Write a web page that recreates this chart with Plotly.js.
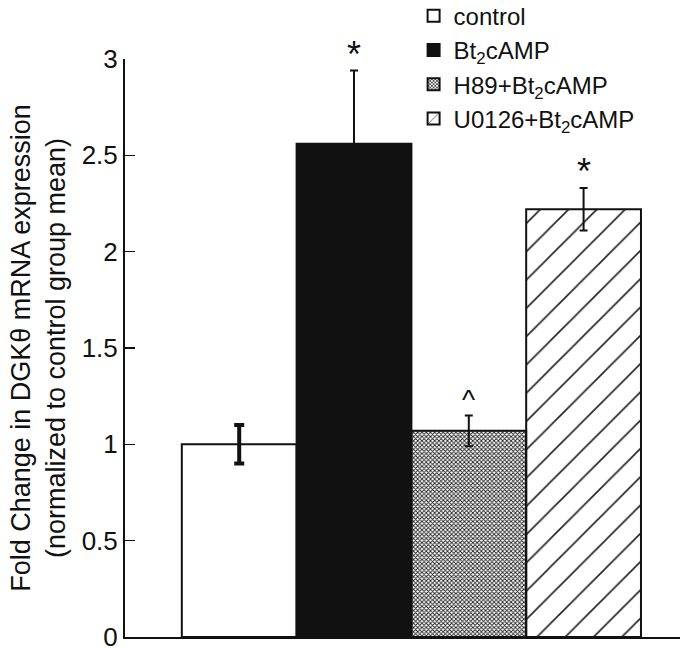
<!DOCTYPE html>
<html>
<head>
<meta charset="utf-8">
<script src="https://cdn.plot.ly/plotly-3.0.1.min.js"></script>
<style>html,body{margin:0;padding:0;background:#fff;}#chart{width:697px;height:648px;}</style>
</head>
<body>
<div id="chart"></div>
<script>
// Data
var categories = ["control", "Bt<sub>2</sub>cAMP", "H89+Bt<sub>2</sub>cAMP", "U0126+Bt<sub>2</sub>cAMP"];
var means = [1.0, 2.56, 1.07, 2.22];
var errors = [0.10, 0.38, 0.08, 0.11];
var marks = ["", "*", "^", "*"];
var yTicks = [0, 0.5, 1, 1.5, 2, 2.5, 3];
var yTickLabels = ["0", "0.5", "1", "1.5", "2", "2.5", "3"];

var fills = [
  {color: "#ffffff", pattern: {shape: ""}},
  {color: "#111111", pattern: {shape: ""}},
  {color: "#ffffff", pattern: {shape: "x", fgcolor: "#222222", size: 3, solidity: 0.5}},
  {color: "#ffffff", pattern: {shape: "/", fgcolor: "#222222", size: 20, solidity: 0.08}}
];
var errThick = [4, 2, 2, 2];
var errWidth = [5, 4, 4, 4];

var traces = categories.map(function (c, i) {
  return {
    type: "bar",
    name: c,
    x: [i],
    y: [means[i]],
    width: 1,
    marker: {color: fills[i].color, pattern: fills[i].pattern, line: {color: "#111", width: 2}},
    error_y: {type: "data", array: [errors[i]], visible: true, color: "#111", thickness: errThick[i], width: errWidth[i]}
  };
});

var annotations = [];
marks.forEach(function (m, i) {
  if (!m) return;
  annotations.push({
    x: i, y: means[i] + errors[i], xref: "x", yref: "y",
    text: m, showarrow: false, yanchor: "bottom", yshift: m === "*" ? -6 : -2,
    font: {family: "Liberation Sans, Arial, sans-serif", size: m === "*" ? 36 : 28, color: "#111"}
  });
});

var layout = {
  width: 697, height: 648,
  margin: {l: 125, r: 17, t: 59, b: 11, autoexpand: false},
  paper_bgcolor: "#fff", plot_bgcolor: "#fff",
  font: {family: "Liberation Sans, Arial, sans-serif", color: "#111", size: 26},
  barmode: "group", bargap: 0,
  showlegend: true,
  legend: {x: 0.52, y: 1.113, xanchor: "left", yanchor: "top", bgcolor: "rgba(0,0,0,0)",
           font: {size: 24, color: "#111"}, tracegroupgap: 0, itemwidth: 30},
  xaxis: {range: [-0.995, 3.84], showline: true, linecolor: "#111", linewidth: 2,
          showticklabels: false, ticks: "", showgrid: false, zeroline: false, fixedrange: true},
  yaxis: {range: [0, 3], showline: true, linecolor: "#111", linewidth: 2,
          tickvals: yTicks, ticktext: yTickLabels, ticks: "inside", ticklen: 10, tickwidth: 1.5, tickcolor: "#111",
          ticklabeloverflow: "allow",
          showgrid: false, zeroline: false, tickfont: {size: 26},
          title: {text: "Fold Change in DGK\u03b8 mRNA expression<br>(normalized to control group mean)", font: {size: 27}, standoff: 8}},
  annotations: annotations
};

Plotly.newPlot("chart", traces, layout, {displayModeBar: false, staticPlot: true});
</script>
</body>
</html>
